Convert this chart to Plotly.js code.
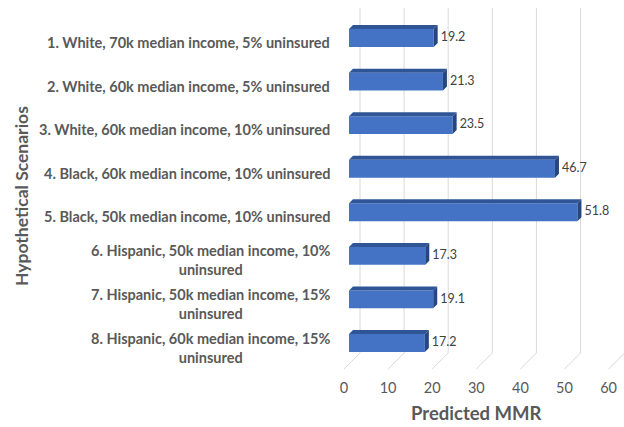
<!DOCTYPE html>
<html>
<head>
<meta charset="utf-8">
<script src="https://cdn.plot.ly/plotly-3.0.1.min.js"></script>
<style>html,body{margin:0;padding:0;background:#fff;}#chart{width:624px;height:427px;}</style>
</head>
<body>
<div id="chart"></div>
<script>
// ---- data ----
const categories = [
  "1. White, 70k median income, 5% uninsured",
  "2. White, 60k median income, 5% uninsured",
  "3. White, 60k median income, 10% uninsured",
  "4. Black, 60k median income, 10% uninsured",
  "5. Black, 50k median income, 10% uninsured",
  "6. Hispanic, 50k median income, 10%<br>uninsured",
  "7. Hispanic, 50k median income, 15%<br>uninsured",
  "8. Hispanic, 60k median income, 15%<br>uninsured"
];
const values = [19.2, 21.3, 23.5, 46.7, 51.8, 17.3, 19.1, 17.2];
const xTicks = [0, 10, 20, 30, 40, 50, 60];
const xTitle = "Predicted MMR";
const yTitle = "Hypothetical Scenarios";

// ---- geometry (pixels) ----
const W = 624, H = 427;
const pxPerUnit = 4.41;
const barX0 = 349;          // front face zero
const wallX0 = 360;         // back wall zero
const floorShift = 16;      // back wall -> floor front, px
const plotTop = 16.2, plotBot = 364.8;
const catPx = (plotBot - plotTop) / categories.length;
const barW = 0.41;
const dxU = 4 / pxPerUnit;   // depth offset in value units
const dyU = 4 / catPx;       // depth offset in category units
const labelGapU = 3 / pxPerUnit;
const wallTop = 8, wallBot = 353;

const idx = categories.map((_, i) => i);
const font = "Lato, 'Open Sans', sans-serif";

// decoration axis (xy): full canvas, x in value units with 0 at back wall, y in px from bottom
const gx = [], gy = [];
xTicks.forEach(t => {
  gx.push(t, t, null, t, t - floorShift / pxPerUnit, null);
  gy.push(H - wallTop, H - wallBot, null, H - wallBot, H - wallBot - floorShift, null);
});

// 3D faces
const topX = [], topY = [], sideX = [], sideY = [];
values.forEach((v, i) => {
  const yt = i - barW / 2, yb = i + barW / 2;
  topX.push(0, v, v + dxU, dxU, 0, null);
  topY.push(yt, yt, yt - dyU, yt - dyU, yt, null);
  sideX.push(v, v + dxU, v + dxU, v, v, null);
  sideY.push(yt, yt - dyU, yb - dyU, yb, yt, null);
});

const traces = [
  {type: 'scatter', mode: 'lines', x: gx, y: gy, xaxis: 'x', yaxis: 'y',
   line: {color: '#d9d9d9', width: 1}, hoverinfo: 'skip', showlegend: false},
  {type: 'bar', orientation: 'h', x: values, y: idx, xaxis: 'x2', yaxis: 'y2',
   width: barW, marker: {color: '#4472c4', line: {width: 0}}, hoverinfo: 'x', showlegend: false},
  {type: 'scatter', mode: 'lines', x: topX, y: topY, xaxis: 'x2', yaxis: 'y2',
   fill: 'toself', fillcolor: '#2f5597', line: {width: 0, color: '#2f5597'},
   hoverinfo: 'skip', showlegend: false},
  {type: 'scatter', mode: 'lines', x: sideX, y: sideY, xaxis: 'x2', yaxis: 'y2',
   fill: 'toself', fillcolor: '#264680', line: {width: 0, color: '#264680'},
   hoverinfo: 'skip', showlegend: false},
  {type: 'scatter', mode: 'text', x: values.map(v => v + dxU + labelGapU), y: idx, xaxis: 'x2', yaxis: 'y2',
   text: values.map(v => v.toFixed(1)), textposition: 'middle right',
   textfont: {family: font, size: 12.5, color: '#404040'}, hoverinfo: 'skip', showlegend: false, cliponaxis: false}
];

const annotations = categories.map((c, i) => ({
  text: c, xref: 'paper', x: 332 / W, xanchor: 'right', yref: 'y2', y: i, yanchor: 'middle',
  yshift: -4.5, align: 'center', showarrow: false,
  font: {family: font, size: 14.5, color: '#595959', weight: 'bold'}
}));
annotations.push({
  text: '<b>' + xTitle + '</b>', xref: 'paper', yref: 'paper', x: 477 / W, y: 1 - 413 / H,
  xanchor: 'center', yanchor: 'middle', showarrow: false,
  font: {family: font, size: 18.5, color: '#595959'}
});
annotations.push({
  text: '<b>' + yTitle + '</b>', xref: 'paper', yref: 'paper', x: 21 / W, y: 1 - 196 / H,
  xanchor: 'center', yanchor: 'middle', textangle: -90, showarrow: false,
  font: {family: font, size: 17.5, color: '#595959'}
});

const layout = {
  width: W, height: H,
  margin: {l: 0, r: 0, t: 0, b: 0, pad: 0},
  paper_bgcolor: '#ffffff', plot_bgcolor: 'rgba(0,0,0,0)',
  showlegend: false,
  xaxis: {domain: [0, 1], range: [-wallX0 / pxPerUnit, (W - wallX0) / pxPerUnit],
          visible: false, fixedrange: true},
  yaxis: {domain: [0, 1], range: [0, H], visible: false, fixedrange: true},
  xaxis2: {domain: [barX0 / W, 1], range: [0, (W - barX0) / pxPerUnit], anchor: 'y2',
           showgrid: false, zeroline: false, showline: false, ticks: '',
           tickmode: 'array', tickvals: xTicks, ticktext: xTicks.map(String),
           ticklabelshift: -5, ticklabelstandoff: 13,
           tickfont: {family: font, size: 14.5, color: '#595959'}},
  yaxis2: {domain: [1 - plotBot / H, 1 - plotTop / H], range: [categories.length - 0.5, -0.5],
           anchor: 'x2', showgrid: false, zeroline: false, showline: false,
           showticklabels: false, ticks: ''},
  annotations: annotations
};

Plotly.newPlot('chart', traces, layout, {displayModeBar: false, staticPlot: true});
</script>
</body>
</html>
